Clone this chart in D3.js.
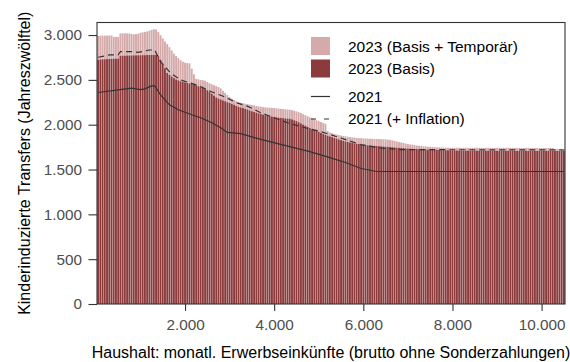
<!DOCTYPE html>
<html><head><meta charset="utf-8">
<script src="https://cdn.jsdelivr.net/npm/d3@7"></script>
<style>
body{margin:0;background:#fff}
svg{display:block}
text{font-family:"Liberation Sans",Arial,sans-serif}
</style>
</head><body>
<svg id="c" width="570" height="362"></svg>
<script>
// ---- data ----
// x categories: monthly household gross earned income, bars every 50
const income = d3.range(50, 10501, 50);

// 2023 (Basis) per bar
const basis2023 = [
2725,2728,2730,2730,2732,2733,2735,2735,2737,2738,
2768,2770,2770,2772,2772,2773,2774,2774,2775,2775,
2776,2776,2777,2777,2778,2778,2778,2765,2725,2680,
2630,2578,2555,2537,2520,2505,2495,2485,2478,2472,
2466,2460,2455,2448,2440,2430,2420,2410,2400,2385,
2365,2345,2325,2305,2292,2282,2272,2262,2251,2242,
2233,2222,2210,2200,2192,2185,2178,2170,2160,2150,
2142,2134,2127,2120,2113,2106,2100,2095,2091,2087,
2083,2079,2076,2073,2071,2069,2067,2060,2050,2040,
2028,2015,2002,1990,1977,1964,1952,1941,1930,1920,
1908,1897,1887,1878,1870,1862,1853,1845,1836,1828,
1821,1814,1808,1802,1797,1792,1788,1784,1780,1777,
1774,1771,1769,1767,1765,1763,1761,1759,1757,1755,
1753,1751,1749,1747,1745,1743,1741,1739,1737,1735,
1733,1731,1730,1729,1727,1726,1725,1724,1723,1722,
1721,1720,1719,1718,1717,1716,1716,1715,1715,1714,
1714,1713,1713,1713,1712,1712,1712,1711,1711,1711,
1711,1710,1710,1710,1710,1710,1709,1709,1709,1709,
1709,1709,1709,1709,1709,1709,1709,1709,1709,1709,
1709,1709,1709,1708,1708,1708,1708,1708,1708,1708,
1708,1708,1708,1708,1708,1708,1708,1708,1708,1708
];

// 2023 (Basis + Temporär) per bar (total height)
const total2023 = [
2990,2992,2993,2993,2994,2994,2995,2980,2979,2978,
3018,3020,3020,3019,3018,3012,3008,3010,3015,3025,
3030,3035,3040,3048,3058,3066,3062,3035,2998,2962,
2928,2900,2865,2828,2792,2766,2742,2718,2702,2692,
2687,2684,2625,2562,2512,2505,2500,2497,2490,2476,
2462,2450,2440,2430,2420,2405,2378,2355,2330,2308,
2290,2275,2262,2252,2245,2240,2235,2230,2225,2220,
2214,2209,2204,2200,2196,2193,2190,2189,2188,2186,
2183,2180,2177,2174,2171,2168,2167,2162,2156,2148,
2140,2130,2118,2106,2094,2082,2070,2060,2050,2040,
2030,2020,2010,1930,1912,1905,1898,1891,1885,1879,
1874,1870,1866,1862,1859,1856,1853,1851,1849,1847,
1846,1845,1844,1843,1842,1841,1840,1839,1838,1836,
1834,1831,1826,1820,1814,1808,1802,1796,1790,1785,
1780,1776,1772,1768,1765,1762,1759,1757,1755,1753,
1751,1750,1748,1747,1746,1745,1744,1743,1743,1742,
1742,1742,1742,1742,1742,1742,1742,1742,1742,1742,
1742,1742,1742,1742,1742,1742,1742,1742,1742,1742,
1742,1742,1742,1742,1742,1742,1742,1742,1742,1742,
1742,1742,1742,1741,1741,1741,1740,1740,1740,1740,
1740,1740,1740,1740,1740,1730,1730,1730,1730,1730
];

// 2021 line (breakpoints)
const line2021X = [50,500,800,1000,1100,1250,1320,1450,1650,1850,2150,2350,2600,2800,2950,3250,3550,3900,4350,4800,5250,5600,5950,6300,10500];
const line2021Y = [2359,2389,2408,2392,2400,2433,2433,2333,2222,2167,2111,2078,2022,1967,1914,1900,1856,1811,1756,1700,1633,1578,1511,1478,1478];

// 2021 (+ Inflation) line (breakpoints)
const lineInflX = [50,300,500,550,800,950,1200,1320,1450,1680,1900,2130,2350,2580,2870,3180,3410,3700,4000,4300,4600,5050,5450,5940,6390,6840,10500];
const lineInflY = [2752,2778,2778,2815,2815,2806,2833,2833,2703,2574,2500,2463,2426,2370,2315,2241,2204,2133,2078,2022,1978,1922,1859,1778,1741,1722,1718];

const xTicks = [2000,4000,6000,8000,10000];
const yTicks = [0,500,1000,1500,2000,2500,3000];
const legendFill = ["2023 (Basis + Temporär)","2023 (Basis)"];
const legendLine = ["2021","2021 (+ Inflation)"];
const xTitle = "Haushalt: monatl. Erwerbseinkünfte (brutto ohne Sonderzahlungen)";
const yTitle = "Kinderinduzierte Transfers (Jahreszwölftel)";

// ---- drawing ----
const colDark = "#8C3B3D", colLight = "#D5AAAB", colLine = "#333333";
const P = {l:97, r:565, t:22.5, b:304};
const svg = d3.select("#c");
const x = d3.scaleLinear().domain([25,10525]).range([P.l,P.r]);
const y = d3.scaleLinear().domain([0,3140]).range([P.b,P.t]);
const de = d3.formatLocale({decimal:",",thousands:".",grouping:[3],currency:["","€"]});
const fmt = de.format(",");

svg.append("defs").append("clipPath").attr("id","clip")
  .append("rect").attr("x",P.l).attr("y",P.t).attr("width",P.r-P.l).attr("height",P.b-P.t);

const bw = x(income[1]) - x(income[0]);
const gap = 0.32;
const plot = svg.append("g").attr("clip-path","url(#clip)");
const rows = income.map((d,i)=>({x:d,b:basis2023[i],t:total2023[i]}));
plot.append("g").selectAll("rect").data(rows).join("rect")
  .attr("x",d=>x(d.x)-bw/2+gap/2).attr("width",bw-gap)
  .attr("y",d=>y(d.t)).attr("height",d=>y(d.b)-y(d.t))
  .attr("fill",colLight);
plot.append("g").selectAll("rect").data(rows).join("rect")
  .attr("x",d=>x(d.x)-bw/2+gap/2).attr("width",bw-gap)
  .attr("y",d=>y(d.b)).attr("height",d=>y(0)-y(d.b))
  .attr("fill",colDark);

const line = d3.line().x(d=>x(d[0])).y(d=>y(d[1]));
plot.append("path").datum(line2021X.map((v,i)=>[v,line2021Y[i]]))
  .attr("d",line).attr("fill","none").attr("stroke",colLine).attr("stroke-width",1.2);
plot.append("path").datum(lineInflX.map((v,i)=>[v,lineInflY[i]]))
  .attr("d",line).attr("fill","none").attr("stroke",colLine).attr("stroke-width",1.2)
  .attr("stroke-dasharray","6,4");

// panel border
svg.append("rect").attr("x",P.l).attr("y",P.t).attr("width",P.r-P.l).attr("height",P.b-P.t)
  .attr("fill","none").attr("stroke","#333").attr("stroke-width",1.1);

// axes
const ya = svg.append("g").attr("transform",`translate(${P.l},0)`)
  .call(d3.axisLeft(y).tickValues(yTicks).tickFormat(fmt).tickSize(8.5).tickPadding(6.5));
const xa = svg.append("g").attr("transform",`translate(0,${P.b})`)
  .call(d3.axisBottom(x).tickValues(xTicks).tickFormat(fmt).tickSize(7).tickPadding(8.5));
[ya,xa].forEach(a=>{
  a.select(".domain").remove();
  a.selectAll(".tick line").attr("stroke","#333").attr("stroke-width",1.1);
  a.selectAll(".tick text").attr("fill","#4D4D4D").style("font-size","15.3px")
    .style("font-family",'"Liberation Sans",Arial,sans-serif');
});

// titles
svg.append("text").attr("x",(P.l+P.r)/2).attr("y",357.5).attr("text-anchor","middle")
  .style("font-size","16px").attr("fill","#000").text(xTitle);
svg.append("text").attr("transform",`translate(29.5,${(P.t+P.b)/2}) rotate(-90)`)
  .attr("text-anchor","middle").style("font-size","16px").attr("fill","#000").text(yTitle);

// legend
const lg = svg.append("g");
const fillCols = [colLight,colDark];
const fillRowsY = [46,68.5];
legendFill.forEach((t,i)=>{
  lg.append("rect").attr("x",311).attr("y",fillRowsY[i]-9).attr("width",19).attr("height",18).attr("fill",fillCols[i]);
  lg.append("text").attr("x",348).attr("y",fillRowsY[i]).attr("dominant-baseline","central")
    .style("font-size","15.5px").attr("fill","#000").text(t);
});
const lineRowsY = [96.5,119];
legendLine.forEach((t,i)=>{
  lg.append("line").attr("x1",311).attr("x2",330).attr("y1",lineRowsY[i]).attr("y2",lineRowsY[i])
    .attr("stroke",colLine).attr("stroke-width",1.2).attr("stroke-dasharray",i===1?"5,8":null);
  lg.append("text").attr("x",348).attr("y",lineRowsY[i]-0.5).attr("dominant-baseline","central")
    .style("font-size","15.5px").attr("fill","#000").text(t);
});
</script>
</body></html>
